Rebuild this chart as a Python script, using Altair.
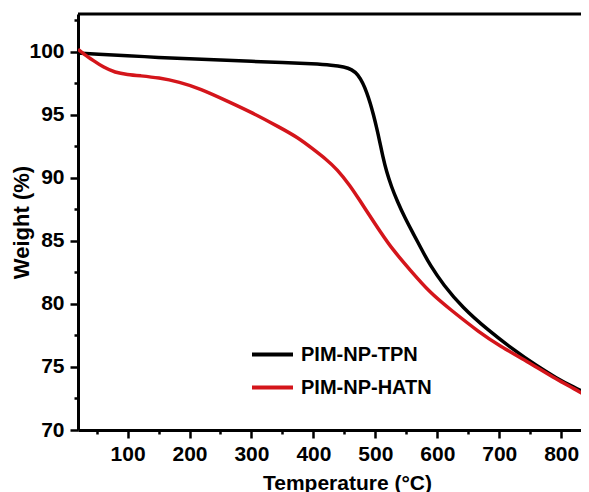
import altair as alt
import pandas as pd

# ---- data ----
tpn_temp = [20, 50, 100, 150, 200, 250, 300, 350, 400, 430, 450, 462, 472, 480, 486,
            492, 497, 502, 507, 512, 518, 526, 535, 548, 561, 575, 588, 610, 641, 680,
            722, 760, 793, 820, 845]
tpn_weight = [99.9, 99.8, 99.7, 99.55, 99.45, 99.35, 99.25, 99.15, 99.05, 98.95, 98.8,
              98.6, 98.2, 97.5, 96.8, 95.9, 95.0, 94.0, 92.9, 91.7, 90.5, 89.3, 88.2,
              86.8, 85.6, 84.3, 83.1, 81.5, 79.7, 78.0, 76.4, 75.1, 74.1, 73.4, 72.8]

hatn_temp = [20, 30, 45, 60, 80, 100, 120, 150, 184, 216, 265, 300, 346, 375, 399, 420,
             438, 459, 475, 491, 507, 528, 556, 588, 620, 669, 700, 750, 793, 820, 845]
hatn_weight = [100.2, 99.8, 99.3, 98.8, 98.35, 98.2, 98.1, 97.95, 97.6, 97.1, 96.0, 95.2,
               94.0, 93.2, 92.3, 91.5, 90.7, 89.4, 88.2, 87.0, 85.8, 84.3, 82.7, 80.9,
               79.6, 77.7, 76.7, 75.3, 74.0, 73.3, 72.6]

series = ["PIM-NP-TPN", "PIM-NP-HATN"]
colors = ["#000000", "#d4151b"]

x_ticks = list(range(50, 850, 50))
y_ticks = [70 + 2.5 * i for i in range(14)]

rows = []
for t, w in zip(tpn_temp, tpn_weight):
    rows.append({"T": t, "W": w, "s": series[0], "o": 0})
for t, w in zip(hatn_temp, hatn_weight):
    rows.append({"T": t, "W": w, "s": series[1], "o": 1})
df = pd.DataFrame(rows)

W, H = 503, 416
FONT = "Liberation Sans"

x_scale = alt.Scale(domain=[20, 832], nice=False, zero=False)
y_scale = alt.Scale(domain=[70, 103], nice=False, zero=False)

x_axis = alt.Axis(
    values=x_ticks,
    labelExpr="datum.value % 100 === 0 ? datum.label : ''",
    tickSize={"condition": {"test": "datum.value % 100 === 0", "value": 8}, "value": 4},
    tickWidth=2.5, tickColor="black",
    domainWidth=3, domainColor="black",
    labelFont=FONT, labelFontSize=21, labelFontWeight="bold", labelColor="black",
    labelPadding=5, labelFlush=False,
    title="Temperature (°C)", titleFont=FONT, titleFontSize=21, titleFontWeight="bold",
    titleColor="black", titleX=269, titleY=59, titleBaseline="alphabetic",
    grid=False,
)
y_axis = alt.Axis(
    values=y_ticks,
    labelExpr="datum.value % 5 === 0 ? format(datum.value, 'd') : ''",
    tickSize={"condition": {"test": "datum.value % 5 === 0", "value": 8}, "value": 4},
    tickWidth=2.5, tickColor="black",
    domainWidth=3, domainColor="black",
    labelFont=FONT, labelFontSize=21, labelFontWeight="bold", labelColor="black",
    labelPadding=6, labelFlush=False,
    title="Weight (%)", titleFont=FONT, titleFontSize=22, titleFontWeight="bold",
    titleColor="black", titleX=-45, titleY=208, titleBaseline="bottom",
    titleAlign="center", titleAngle=270,
    grid=False,
)

lines = alt.Chart(df).mark_line(strokeWidth=3.5, interpolate="basis", clip=True).encode(
    x=alt.X("T:Q", scale=x_scale, axis=x_axis),
    y=alt.Y("W:Q", scale=y_scale, axis=y_axis),
    color=alt.Color(
        "s:N",
        scale=alt.Scale(domain=series, range=colors),
        sort=series,
        legend=alt.Legend(
            title=None, orient="none", legendX=172, legendY=318,
            symbolType="stroke", symbolSize=1681, symbolStrokeWidth=4,
            labelFont=FONT, labelFontSize=20, labelFontWeight="bold", labelColor="black",
            labelOffset=6, rowPadding=-13, padding=0,
        ),
    ),
    order="o:Q",
    detail="s:N",
)

top = alt.Chart(pd.DataFrame({"a": [0]})).mark_rule(color="black", strokeWidth=3).encode(
    x=alt.value(0), x2=alt.value(W + 10), y=alt.value(0)
)

chart = alt.layer(lines, top).properties(
    width=W, height=H,
    autosize=alt.AutoSizeParams(type="none"),
    padding={"left": 70, "top": 6, "right": 0, "bottom": 62},
).configure_view(stroke=None).configure(background="white")

chart.save("out.html", embed_options={"renderer": "svg", "actions": False})
